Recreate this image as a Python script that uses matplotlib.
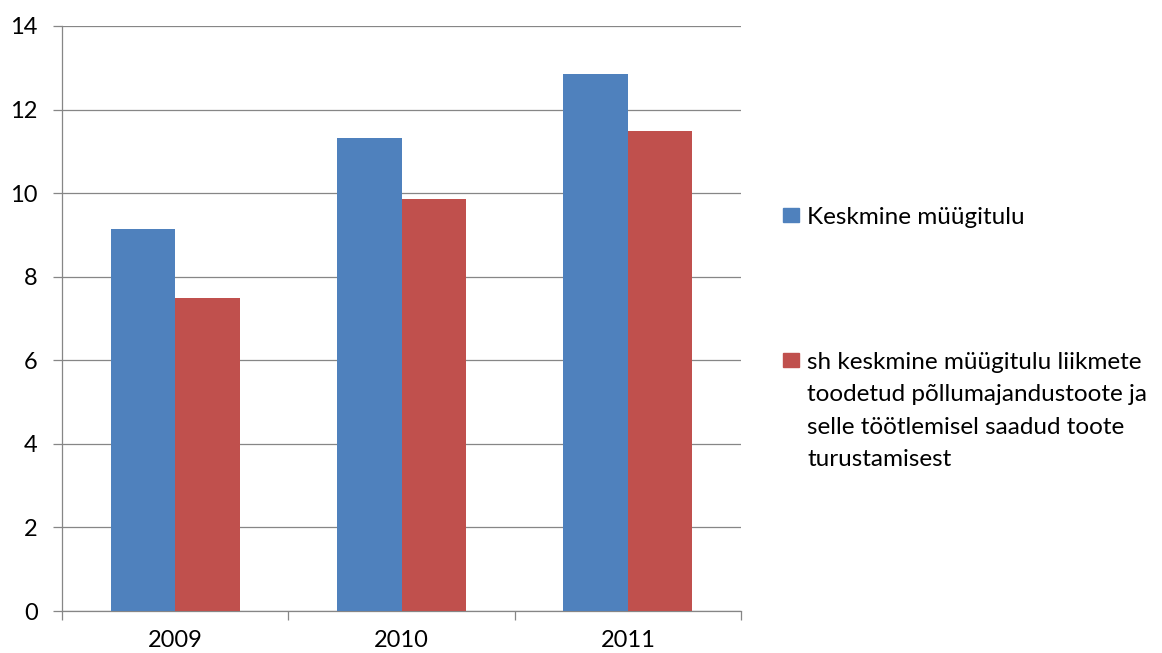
import matplotlib
matplotlib.use("Agg")
import matplotlib.pyplot as plt
from matplotlib.patches import Rectangle
import numpy as np

years = ["2009", "2010", "2011"]
series_names = ["Keskmine müügitulu",
                "sh keskmine müügitulu liikmete\ntoodetud põllumajandustoote ja\nselle töötlemisel saadud toote\nturustamisest"]
keskmine = [9.14, 11.32, 12.85]
sh_liikmete = [7.49, 9.85, 11.48]
colors = ["#4F81BD", "#C0504D"]
yticks = [0, 2, 4, 6, 8, 10, 12, 14]

plt.rcParams['font.family'] = ['Lato', 'DejaVu Sans']

W, H = 1162, 653
fig = plt.figure(figsize=(W / 100, H / 100), dpi=100)
ax = fig.add_axes([62 / W, (H - 611) / H, (741 - 62) / W, (611 - 26) / H])

x = np.arange(len(years))
bw = 1 / 3.5
ax.bar(x - bw / 2, keskmine, bw, color=colors[0], zorder=3)
ax.bar(x + bw / 2, sh_liikmete, bw, color=colors[1], zorder=3)

ax.set_xlim(-0.5, len(years) - 0.5)
ax.set_ylim(0, 14)
ax.set_yticks(yticks)
ax.set_yticklabels([str(v) for v in yticks])
ax.yaxis.grid(True, color="#868686", linewidth=0.9, zorder=0)
ax.set_axisbelow(True)

ax.set_xticks(x)
ax.set_xticklabels(years)
ax.set_xticks(np.arange(-0.5, len(years), 1.0), minor=True)
ax.tick_params(axis="x", which="major", length=0, pad=14, labelsize=17, colors="black")
ax.tick_params(axis="x", which="minor", length=6.5, width=0.9, color="#868686")
ax.tick_params(axis="y", length=6.5, width=0.9, color="#868686", pad=11, labelsize=17, labelcolor="black")

for s in ["top", "right"]:
    ax.spines[s].set_visible(False)
for s in ["left", "bottom"]:
    ax.spines[s].set_color("#868686")
    ax.spines[s].set_linewidth(0.9)

# legend
entries = [(215, 807), (360, 807)]
for (cy, tx), name, c in zip(entries, series_names, colors):
    fig.patches.append(Rectangle((783 / W, (H - cy - 7) / H), 16 / W, 14 / H,
                                 transform=fig.transFigure, color=c))
    fig.text(tx / W, (H - cy) / H + 0.013, name, ha="left", va="top",
             fontsize=17.5, linespacing=1.68, color="black")

fig.savefig("out.png", dpi=100)
